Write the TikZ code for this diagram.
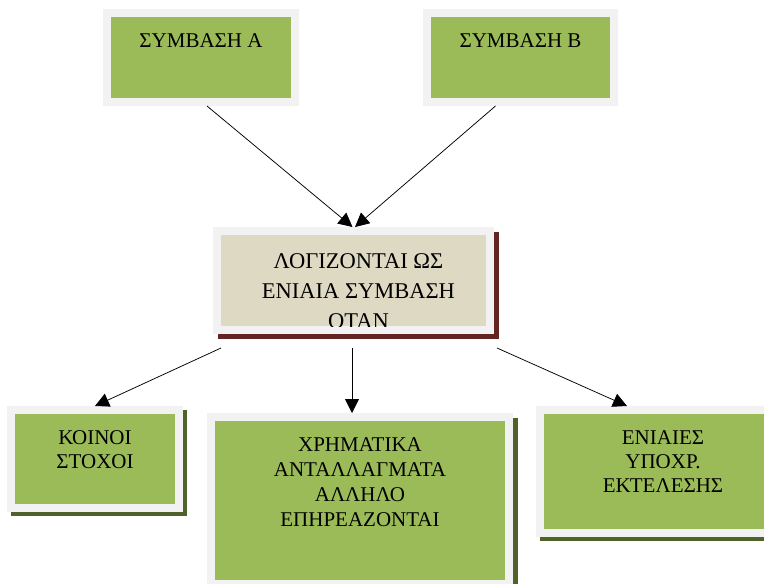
\documentclass[tikz,border=0pt]{standalone}
\usepackage{fontspec}
\setmainfont{Liberation Serif}
\usepackage{xcolor}
\usepackage{tikz}
\usetikzlibrary{positioning,arrows.meta,calc,backgrounds}
\definecolor{boxgreen}{HTML}{9BBB59}
\definecolor{framegrey}{HTML}{F2F2F2}
\definecolor{ctrbeige}{HTML}{DDD9C3}
\definecolor{shadowred}{HTML}{632523}
\definecolor{shadowolive}{HTML}{4F6228}

\begin{document}
\begin{tikzpicture}[
   x=1pt, y=-1pt,
   box/.style={draw=framegrey, line width=8pt, fill=boxgreen, inner sep=0pt,
               outer sep=4pt},
   lbl/.style={align=center, inner sep=0pt, font=\fontsize{21}{24}\selectfont},
   >={Triangle[length=14pt, width=14pt]}]
  \useasboundingbox (0,0) rectangle (764,584);

  % the two contracts
  \node[box, minimum width=188pt, minimum height=89pt] (syma) at (201,57.5) {};
  \node[box, minimum width=187pt, minimum height=89pt] (symb) at (520.5,57.5) {};
  \node[lbl, below=24pt of syma.north] (symatxt) {ΣΥΜΒΑΣΗ Α};
  \node[lbl, below=24pt of symb.north] (symbtxt) {ΣΥΜΒΑΣΗ Β};

  % central box, last line cut off by the rim
  \node[box, fill=ctrbeige, minimum width=273pt, minimum height=99pt] (ctr) at (353.5,280.5) {};
  \begin{scope}
    \clip ([shift={(8pt,-8pt)}]ctr.north west) rectangle ([shift={(-8pt,8pt)}]ctr.south east);
    \node[lbl, font=\fontsize{22.5}{30}\selectfont, below=26pt of ctr.north, xshift=5pt] (ctrtxt)
      {ΛΟΓΙΖΟΝΤΑΙ ΩΣ\\ΕΝΙΑΙΑ ΣΥΜΒΑΣΗ\\ΟΤΑΝ};
  \end{scope}

  % the three conditions
  \node[box, minimum width=168pt, minimum height=98pt] (koin) at (95,459) {};
  \node[box, minimum width=298pt, minimum height=167pt] (xrim) at (360,500.5) {};
  \node[box, minimum width=246pt, minimum height=123pt] (enia) at (663,471.5) {};
  \node[lbl, below=24pt of koin.north] (kointxt) {ΚΟΙΝΟΙ\\ΣΤΟΧΟΙ};
  \node[lbl, font=\fontsize{21}{25}\selectfont, below=24pt of xrim.north] (xrimtxt)
    {ΧΡΗΜΑΤΙΚΑ\\ΑΝΤΑΛΛΑΓΜΑΤΑ\\ΑΛΛΗΛΟ\\ΕΠΗΡΕΑΖΟΝΤΑΙ};
  \node[lbl, below=24pt of enia.north] (eniatxt) {ΕΝΙΑΙΕΣ\\ΥΠΟΧΡ.\\ΕΚΤΕΛΕΣΗΣ};

  % shadows
  \begin{scope}[on background layer]
    \fill[shadowred] ([shift={(5pt,-5pt)}]ctr.north west) rectangle ([shift={(5pt,-5pt)}]ctr.south east);
    \fill[shadowolive] ([shift={(4pt,-4pt)}]koin.north west) rectangle ([shift={(4pt,-4pt)}]koin.south east);
    \fill[shadowolive] ([shift={(5pt,-5pt)}]xrim.north west) rectangle ([shift={(5pt,-5pt)}]xrim.south east);
    \fill[shadowolive] ([shift={(4pt,-4pt)}]enia.north west) rectangle ([shift={(4pt,-4pt)}]enia.south east);
  \end{scope}

  \draw[->, line width=0.75pt] ([xshift=6pt]syma.south) -- ([xshift=-1pt]ctr.north);
  \draw[->, line width=0.75pt] ([xshift=-25pt]symb.south) -- ([xshift=1.5pt]ctr.north);
  \draw[->, line width=0.75pt] ([shift={(8pt,-14pt)}]ctr.south west) -- (koin.north);
  \draw[->, line width=0.75pt] ([shift={(-1.5pt,-14pt)}]ctr.south) -- ([xshift=-8pt]xrim.north);
  \draw[->, line width=0.75pt] ([shift={(3pt,-14pt)}]ctr.south east) -- ([xshift=-36pt]enia.north);
\end{tikzpicture}
\end{document}
